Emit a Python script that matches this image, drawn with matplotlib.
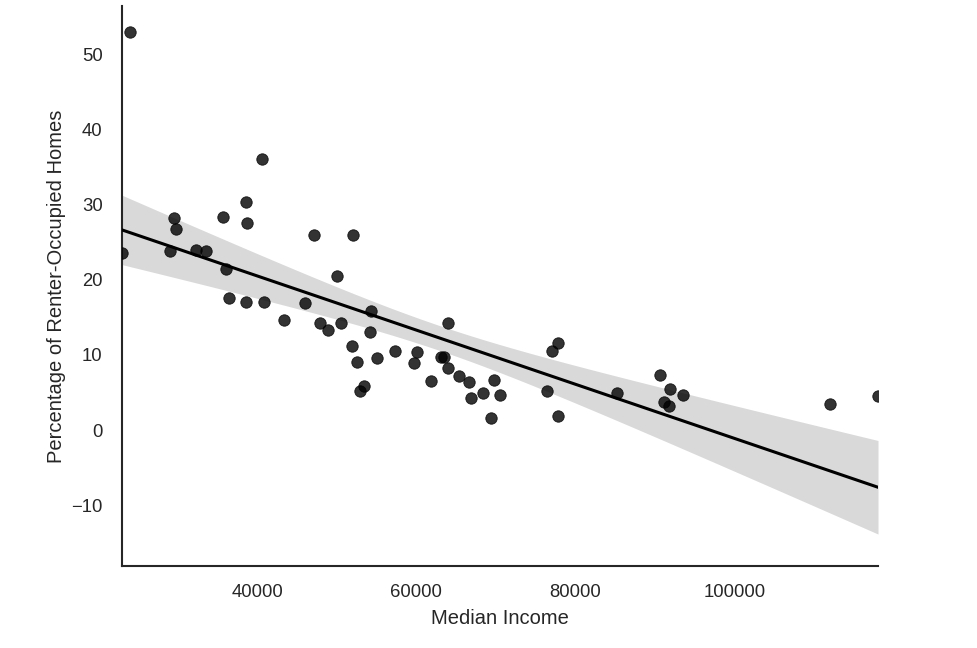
import matplotlib
matplotlib.use("Agg")
import matplotlib.pyplot as plt
import numpy as np

# state-level values
median_income = [
    24061, 23019, 29596, 29848, 29093, 32364, 33622, 40667, 38654, 35760,
    38780, 36138, 36515, 38654, 40918, 46076, 47208, 51988, 49976, 54253,
    43434, 47963, 50479, 48844, 54128, 51863, 52492, 55008, 53372, 52869,
    57272, 60040, 59662, 61801, 63939, 63059, 63436, 63939, 65323, 66581,
    66833, 68342, 69726, 70481, 69349, 76394, 77023, 77778, 77778, 85200,
    90610, 91868, 93503, 91113, 91742, 111996, 118035,
]
pct_renter = [
    53.0, 23.6, 28.2, 26.8, 23.8, 24.0, 23.8, 36.0, 30.4, 28.3,
    27.6, 21.4, 17.5, 17.0, 17.0, 16.9, 25.9, 25.9, 20.5, 15.8,
    14.6, 14.3, 14.3, 13.3, 13.1, 11.2, 9.0, 9.6, 5.8, 5.2,
    10.5, 10.4, 8.9, 6.5, 14.3, 9.7, 9.7, 8.2, 7.2, 6.4,
    4.2, 4.9, 6.6, 4.6, 1.6, 5.2, 10.5, 11.6, 1.9, 4.9,
    7.3, 5.4, 4.6, 3.7, 3.2, 3.5, 4.5,
]

x = np.asarray(median_income, dtype=float)
y = np.asarray(pct_renter, dtype=float)

# linear fit; 95% band from a robust (HC1) covariance, close to a bootstrap band
n = len(x)
X = np.column_stack([np.ones_like(x), x])
bread = np.linalg.inv(X.T @ X)
beta = bread @ X.T @ y
resid = y - X @ beta
meat = (X * (resid ** 2)[:, None]).T @ X * n / (n - 2)
cov = bread @ meat @ bread

grid = np.linspace(x.min(), x.max(), 100)
G = np.column_stack([np.ones_like(grid), grid])
fit = G @ beta
se = np.sqrt(np.einsum("ij,jk,ik->i", G, cov, G))
lo, hi = fit - 1.96 * se, fit + 1.96 * se

plt.rcParams["font.family"] = ["Liberation Sans", "DejaVu Sans"]
text_col = "#262626"

fig = plt.figure(figsize=(9.77, 6.48), dpi=100)
ax = fig.add_axes([0.1249, 0.1265, 0.7738, 0.864])

ax.scatter(x, y, s=68, color="black", alpha=0.8, linewidths=0.6, zorder=3)
ax.plot(grid, fit, color="black", lw=2.2, zorder=4)
ax.fill_between(grid, lo, hi, color="black", alpha=0.15, lw=0, zorder=2)

ax.set_xlim(x.min(), x.max())
ax.set_ylim(-18.1, 56.4)
ax.set_xticks([40000, 60000, 80000, 100000])
ax.set_yticks([-10, 0, 10, 20, 30, 40, 50])

ax.set_xlabel("Median Income", fontsize=14.5, color=text_col, labelpad=6)
ax.set_ylabel("Percentage of Renter-Occupied Homes", fontsize=14.5,
              color=text_col, labelpad=4)
ax.tick_params(axis="both", length=0, labelsize=13.3, labelcolor=text_col)
ax.tick_params(axis="x", pad=13)
ax.tick_params(axis="y", pad=14)

for side in ("top", "right"):
    ax.spines[side].set_visible(False)
for side in ("left", "bottom"):
    ax.spines[side].set_color(text_col)
    ax.spines[side].set_linewidth(1.5)

fig.savefig("out.png", dpi=100)
